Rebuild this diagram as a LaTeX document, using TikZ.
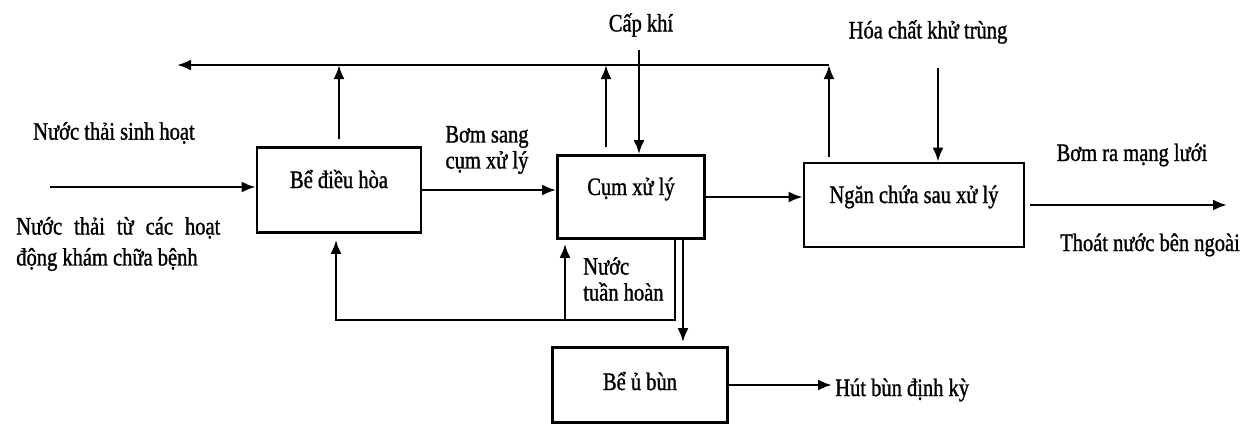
\documentclass[tikz,border=0pt]{standalone}
\usepackage{fontspec}
\setmainfont{Liberation Serif}[FakeStretch=0.82, FakeBold=1.2]
\usetikzlibrary{arrows.meta}

\begin{document}
\begin{tikzpicture}[x=1pt, y=-1pt, line width=2.6pt, >={Latex[length=14pt,width=11pt]}]
	\tikzstyle{every node}=[inner sep=2pt, align=center, font=\fontsize{25}{26}\selectfont]
	\tikzstyle{tank}=[draw, rectangle, text height=17pt, text depth=21pt]
	\useasboundingbox (0,0) rectangle (1254,424);
	% tanks
	\node [tank, minimum width=164pt, minimum height=85pt] (DH) at (339, 190) {Bể điều hòa};
	\node [tank, minimum width=147pt, minimum height=83pt] (CX) at (631, 197) {Cụm xử lý};
	\node [tank, minimum width=220pt, minimum height=84pt] (NC) at (914, 205) {Ngăn chứa sau xử lý};
	\node [tank, minimum width=175pt, minimum height=75pt, text depth=7pt] (UB) at (640, 385) {Bể ủ bùn};
	% labels
	\node [anchor=west] (SH) at (30, 133) {Nước thải sinh hoạt};
	\node [anchor=west, text width=204pt, align=justify, font=\fontsize{25}{31}\selectfont] (KB) at (13, 244) {Nước thải từ các hoạt động khám chữa bệnh};
	\node (BS) at (487, 150) {Bơm sang\\cụm xử lý};
	\node (CK) at (641, 25) {Cấp khí};
	\node (HC) at (928, 32) {Hóa chất khử trùng};
	\node (BR) at (1132, 155) {Bơm ra mạng lưới};
	\node (TN) at (1150, 245) {Thoát nước bên ngoài};
	\node [anchor=west, align=left] (TH) at (580, 279) {Nước\\tuần hoàn};
	\node [anchor=west] (HB) at (832, 390) {Hút bùn định kỳ};
	% free ends
	\coordinate (in) at (50, 187);
	\coordinate (topL) at (177, 65);
	\coordinate (topR) at (829, 65);
	\coordinate (air) at (639, 50);
	\coordinate (chem) at (938, 68);
	\coordinate (out) at (1227, 205);
	\coordinate (loopL) at (336, 320);
	\coordinate (loopM) at (565, 320);
	\coordinate (loopR) at (675, 320);
	\coordinate (mud) at (683, 0);
	% flows
	\draw [->] (in) -- (in -| DH.west);
	\draw [->] (DH.east) -- (DH.east -| CX.west);
	\draw [->] (CX.east) -- (CX.east -| NC.west);
	\draw [->, shorten <=5pt] (NC.east) -- (NC.east -| out);
	\draw [->] (air) -- (air |- CX.north);
	\draw [->] (chem) -- (chem |- NC.north);
	% return line on top
	\draw [->, shorten <=7pt] (DH.north) -- (DH.north |- topL);
	\draw [->, shorten <=7pt] ([xshift=-25pt]CX.north) -- ([xshift=-25pt]CX.north |- topL);
	\draw [->, shorten <=5pt] (topR |- NC.north) -- (topR);
	\draw [->] (topR) -- (topL);
	% recirculation
	\draw [->, shorten >=6pt] (loopR |- CX.south) -- (loopR) -- (loopL) -- (loopL |- DH.south);
	\draw [->, shorten >=4pt] (loopM) -- (loopM |- CX.south);
	% sludge
	\draw [->, shorten >=4pt] (mud |- CX.south) -- (mud |- UB.north);
	\draw [->] (UB.east) -- (UB.east -| HB.west);
\end{tikzpicture}
\end{document}
